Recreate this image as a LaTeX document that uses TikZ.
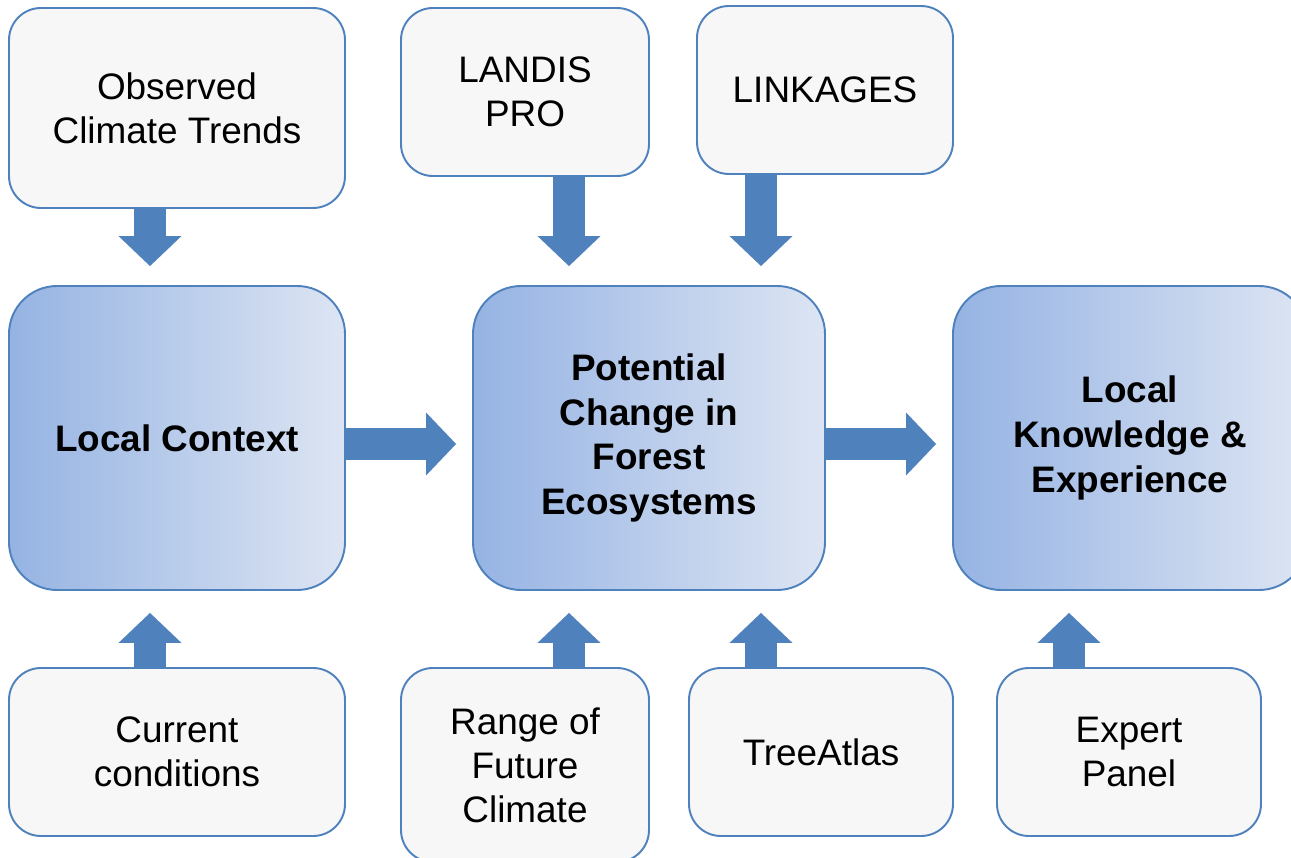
\documentclass[tikz,border=0pt]{standalone}
\usepackage{fontspec}
\setmainfont{Liberation Sans}
\usepackage{xcolor}
\usepackage{tikz}
\usetikzlibrary{arrows.meta,calc}
\definecolor{boxblue}{RGB}{79,129,189}
\definecolor{boxgrey}{RGB}{247,247,247}
\definecolor{shadeleft}{RGB}{149,179,227}
\definecolor{shaderight}{RGB}{221,229,243}
\newlength\pxu
\setlength\pxu{0.02cm}

\begin{document}
\begin{tikzpicture}[x=\pxu, y=-\pxu,
  src/.style={rectangle, rounded corners=32\pxu, draw=boxblue, line width=1.1pt, fill=boxgrey,
    minimum width=336\pxu, minimum height=168\pxu, align=center, font=\fontsize{21}{25}\selectfont},
  main/.style={src, rounded corners=48\pxu, left color=shadeleft, right color=shaderight,
    minimum height=304\pxu, font=\fontsize{21}{25.5}\selectfont\bfseries},
  blk/.style={-{Triangle[length=17pt, width=35.7pt, line width=0pt]}, boxblue, line width=18.1pt}]
\useasboundingbox (0,0) rectangle (1291,858);
\node[src, minimum height=200\pxu] (obs) at (177,108) {Observed\\Climate Trends};
\node[src, minimum width=248\pxu] (landis) at (525,92) {LANDIS\\PRO};
\node[src, minimum width=256\pxu] (link) at (825,90) {LINKAGES};
\node[main] (ctx) at (177,438) {Local Context};
\node[main, minimum width=352\pxu] (pot) at (649,438) {Potential\\Change in\\Forest\\Ecosystems};
\node[main, minimum width=354\pxu] (know) at (1130,438) {Local\\Knowledge \&\\Experience};
\node[src] (cur) at (177,752) {Current\\conditions};
\node[src, minimum width=248\pxu, minimum height=194\pxu] (range) at (525,765) {Range of\\Future\\Climate};
\node[src, minimum width=264\pxu] (tree) at (821,752) {TreeAtlas};
\node[src, minimum width=264\pxu] (expert) at (1129,752) {Expert\\Panel};
\foreach \a/\b/\dx in {obs/ctx/-27, landis/pot/44, link/pot/-64}
  \draw[blk, shorten >=10.8pt] ($(\a.south)+(\dx,0)$) coordinate (s) -- (s |- \b.north);
\foreach \a/\b/\dx in {cur/ctx/-27, range/pot/44, tree/pot/-60, expert/know/-60}
  \draw[blk, shorten >=12.5pt] ($(\a.north)+(\dx,0)$) coordinate (s) -- (s |- \b.south);
\foreach \a/\b in {ctx/pot, pot/know}
  \draw[blk, shorten >=9.1pt] ($(\a.east)+(0,6)$) coordinate (s) -- (s -| \b.west);
\end{tikzpicture}
\end{document}
